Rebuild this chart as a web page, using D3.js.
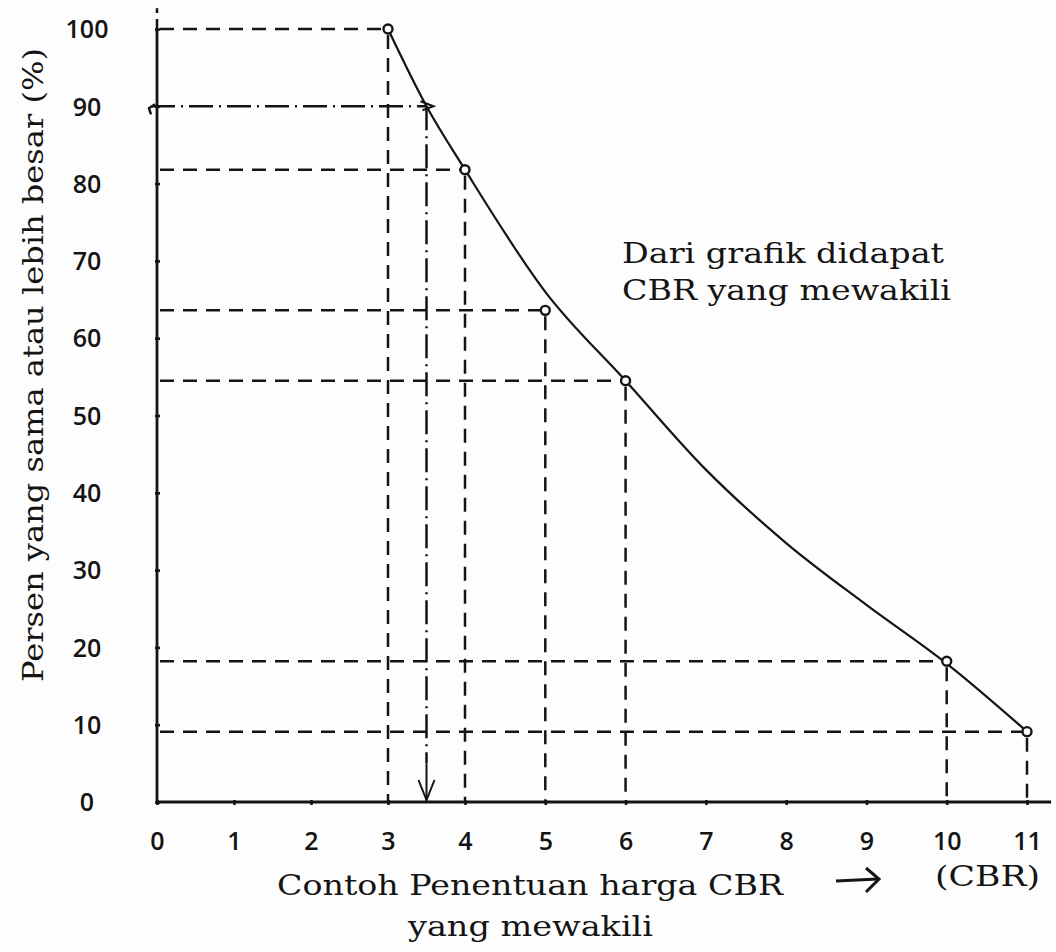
<!DOCTYPE html>
<html><head><meta charset="utf-8">
<script src="https://cdnjs.cloudflare.com/ajax/libs/d3/7.8.5/d3.min.js"></script>
<style>body{margin:0;background:#fff}svg{display:block}</style>
</head><body><svg id="c" width="1056" height="952"></svg>
<script>
// ---- data ----
const xTicks = [0,1,2,3,4,5,6,7,8,9,10,11];
const yTicks = [0,10,20,30,40,50,60,70,80,90,100];
const cbrValues = [3,4,5,6,10,11];               // CBR sample values
const pctValues = [100,81.8,63.6,54.5,18.2,9.1]; // % equal or greater
// hand-drawn curve
const curveCbr = [3,3.5,4,5,6,7,8,9,10,11];
const curvePct = [100,90,81.8,66,54.5,43,33.5,25.5,17.9,9.1];
const repCbr = [3.5];   // representative CBR
const repPct = [90];
const yTitle = "Persen yang sama atau lebih besar (%)";
const xTitle1 = "Contoh Penentuan harga CBR";
const xTitle2 = "yang mewakili";
const note1 = "Dari grafik didapat";
const note2 = "CBR yang mewakili";
const unitLabel = "(CBR)";

const ink = "#141414";
const svg = d3.select("#c");
svg.append("rect").attr("width",1056).attr("height",952).attr("fill","#fdfdfd");

const x = d3.scaleLinear().domain([0,4,11]).range([157,465,1027]);
const y = d3.scaleLinear().domain([0,100]).range([802,29]);

const dash = "14,9";
const dashDot = "24,6,2,6";
const g = svg.append("g").attr("stroke",ink).attr("fill","none").attr("stroke-width",2.5);

// dashed guide lines
cbrValues.forEach((c,i)=>{
  g.append("line").attr("x1",x(0)+3).attr("x2",x(c)-4)
    .attr("y1",y(pctValues[i])).attr("y2",y(pctValues[i]))
    .attr("stroke-dasharray",dash);
  g.append("line").attr("x1",x(c)).attr("x2",x(c))
    .attr("y1",y(pctValues[i])+6).attr("y2",y(0))
    .attr("stroke-dasharray",dash);
});

// representative dash-dot lines
repCbr.forEach((c,i)=>{
  const py = y(repPct[i]);
  g.append("line").attr("x1",x(0)-6).attr("x2",x(c)).attr("y1",py).attr("y2",py)
    .attr("stroke-dasharray",dashDot);
  g.append("path").attr("d",`M${x(0)-2},${py-2} L${x(0)-8},${py+2} L${x(0)-6},${py+8}`);
  g.append("line").attr("x1",x(c)).attr("x2",x(c)).attr("y1",py).attr("y2",y(5))
    .attr("stroke-dasharray",dashDot);
  g.append("line").attr("x1",x(c)).attr("x2",x(c)).attr("y1",y(5)).attr("y2",y(0)).attr("stroke-width",2);
  g.append("path").attr("d",`M${x(c)-8},${y(0)-22} L${x(c)},${y(0)-2} L${x(c)+8},${y(0)-22}`).attr("stroke-width",2);
  g.append("path").attr("d",`M${x(c)-6},${py-5} L${x(c)+7},${py} L${x(c)-4},${py+4}`).attr("stroke-width",2);
});

// axes
g.append("line").attr("x1",x(0)).attr("x2",x(0)).attr("y1",y(0)).attr("y2",y(100)).attr("stroke-width",2.8);
g.append("line").attr("x1",x(0)).attr("x2",x(0)).attr("y1",y(100)).attr("y2",y(102.7)).attr("stroke-dasharray","10,6");
g.append("line").attr("x1",x(0)).attr("x2",x(11.3)).attr("y1",y(0)).attr("y2",y(0)).attr("stroke-width",2.8);

const xAxis = svg.append("g").attr("transform",`translate(0,${y(0)})`)
  .call(d3.axisBottom(x).tickValues(xTicks).tickSize(4).tickPadding(26).tickFormat(d3.format("d")));
const yAxis = svg.append("g").attr("transform",`translate(${x(0)},0)`)
  .call(d3.axisLeft(y).tickValues(yTicks).tickSize(4).tickPadding(0).tickFormat(d3.format("d")));
[xAxis,yAxis].forEach(a=>{
  a.select(".domain").remove();
  a.selectAll(".tick line").attr("stroke",ink).attr("stroke-width",2.6);
  a.selectAll(".tick text").attr("fill",ink).attr("font-family","Open Sans, sans-serif")
    .attr("font-size",25).attr("font-weight",600);
});
xAxis.selectAll(".tick line").attr("y1",-2).attr("y2",3);
yAxis.selectAll(".tick line").attr("x1",-2).attr("x2",3);
yAxis.selectAll(".tick text").attr("text-anchor","middle").attr("x",-70).attr("dy","0.35em");

// curve
const line = d3.line().x(d=>x(d[0])).y(d=>y(d[1])).curve(d3.curveMonotoneX);
g.append("path").attr("d",line(curveCbr.map((c,i)=>[c,curvePct[i]]))).attr("stroke-width",2.2);

// points
svg.append("g").selectAll("circle").data(cbrValues).join("circle")
  .attr("cx",d=>x(d)).attr("cy",(d,i)=>y(pctValues[i])).attr("r",4.5)
  .attr("fill","#fdfdfd").attr("stroke",ink).attr("stroke-width",2.4);

// texts
const serif = "DejaVu Serif, serif";
svg.append("text").text(yTitle).attr("transform",`translate(43,365) rotate(-90)`)
  .attr("text-anchor","middle").attr("font-family",serif).attr("font-size",27)
  .attr("textLength",634).attr("lengthAdjust","spacingAndGlyphs").attr("fill",ink);
svg.append("text").text(note1).attr("x",622).attr("y",263).attr("font-family",serif)
  .attr("font-size",28).attr("textLength",322).attr("lengthAdjust","spacingAndGlyphs").attr("fill",ink);
svg.append("text").text(note2).attr("x",622).attr("y",300).attr("font-family",serif)
  .attr("font-size",28).attr("textLength",329).attr("lengthAdjust","spacingAndGlyphs").attr("fill",ink);
svg.append("text").text(xTitle1).attr("x",277).attr("y",895).attr("font-family",serif)
  .attr("font-size",28).attr("textLength",506).attr("lengthAdjust","spacingAndGlyphs").attr("fill",ink);
svg.append("text").text(xTitle2).attr("x",408).attr("y",936).attr("font-family",serif)
  .attr("font-size",28).attr("textLength",245).attr("lengthAdjust","spacingAndGlyphs").attr("fill",ink);
svg.append("text").text(unitLabel).attr("x",935).attr("y",886).attr("font-family",serif)
  .attr("font-size",27).attr("textLength",105).attr("lengthAdjust","spacingAndGlyphs").attr("fill",ink);
// arrow after title
g.append("path").attr("d","M836,881 L878,879").attr("stroke-width",3);
g.append("path").attr("d","M866,868 L879,879 L866,892").attr("stroke-width",3);
</script></body></html>
